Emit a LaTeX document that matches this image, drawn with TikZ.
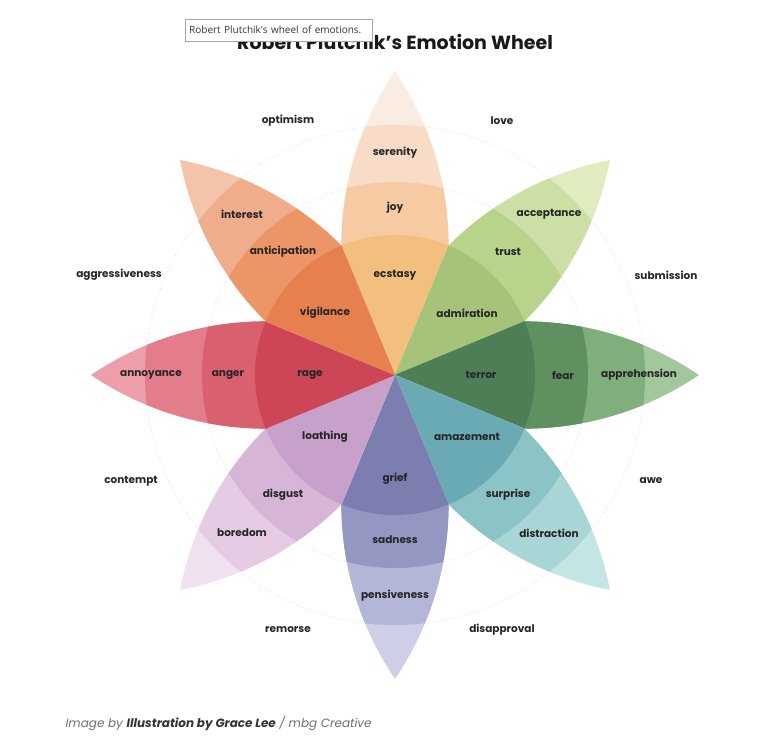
\documentclass[tikz,border=0pt]{standalone}
\usepackage{fontspec}
\setmainfont{Poppins}
\newfontfamily\tipfont{Open Sans}
\usetikzlibrary{positioning}

% petal colours, inner (A) to tip (D)
\definecolor{joyA}{HTML}{F3BF7E}
\definecolor{joyB}{HTML}{F6CBA3}
\definecolor{joyC}{HTML}{F9DCC7}
\definecolor{joyD}{HTML}{FBECE2}
\definecolor{trustA}{HTML}{A5C47A}
\definecolor{trustB}{HTML}{B8D48C}
\definecolor{trustC}{HTML}{CCE0A5}
\definecolor{trustD}{HTML}{E0EBC0}
\definecolor{fearA}{HTML}{4E7E55}
\definecolor{fearB}{HTML}{5F9160}
\definecolor{fearC}{HTML}{80AE7D}
\definecolor{fearD}{HTML}{A3C79D}
\definecolor{surpA}{HTML}{6AAAB4}
\definecolor{surpB}{HTML}{8CC3C7}
\definecolor{surpC}{HTML}{A8D6D6}
\definecolor{surpD}{HTML}{C3E6E4}
\definecolor{sadA}{HTML}{7B7EAE}
\definecolor{sadB}{HTML}{9497C2}
\definecolor{sadC}{HTML}{B3B6D7}
\definecolor{sadD}{HTML}{CDCFE6}
\definecolor{disgA}{HTML}{C8A1CB}
\definecolor{disgB}{HTML}{D7B5D7}
\definecolor{disgC}{HTML}{E5CBE4}
\definecolor{disgD}{HTML}{F1E0EF}
\definecolor{angA}{HTML}{CD4658}
\definecolor{angB}{HTML}{D9606F}
\definecolor{angC}{HTML}{E47D8B}
\definecolor{angD}{HTML}{EE9EA8}
\definecolor{antiA}{HTML}{E7804F}
\definecolor{antiB}{HTML}{EC9667}
\definecolor{antiC}{HTML}{F0AD8B}
\definecolor{antiD}{HTML}{F4C4AA}
\definecolor{capgray}{HTML}{707070}

% one petal, pointing along +x
\newcommand{\petalpath}{(0,0) -- (-22.5:140)
  arc[start angle=-90,end angle=-55.9,radius=311.5]
  arc[start angle=55.9,end angle=90,radius=311.5] -- cycle}

\begin{document}
\begin{tikzpicture}[
      x=1pt,y=1pt,
      every node/.style={font=\bfseries\fontsize{10.5}{12}\selectfont,text=black!85},
      dyad/.style={},
      ring/.style={draw=gray!35,dotted,line width=0.6pt}
    ]
      \useasboundingbox[fill=white] (-395,-378) rectangle (385,375);

      \draw[ring] (0,0) circle[radius=193];
      \draw[ring] (0,0) circle[radius=250];

      \foreach \ang/\pc in {90/joy,45/trust,0/fear,-45/surp,-90/sad,-135/disg,180/ang,135/anti}{
        \begin{scope}[rotate=\ang]
          \clip \petalpath;
          \fill[color=\pc D] (0,0) circle[radius=310];
          \fill[color=\pc C] (0,0) circle[radius=250];
          \fill[color=\pc B] (0,0) circle[radius=193];
          \fill[color=\pc A] (0,0) circle[radius=140];
        \end{scope}
      }

      % primary emotions
      \node (serenity) at (0,222) {serenity};
      \node (joy) at (0,167) {joy};
      \node (ecstasy) at (0,100) {ecstasy};
      \node (acceptance) at (154,161) {acceptance};
      \node (trust) at (113,123) {trust};
      \node (admiration) at (72,62) {admiration};
      \node (apprehension) at (244,0) {apprehension};
      \node (fear) at (168,0) {fear};
      \node (terror) at (86,0) {terror};
      \node (distraction) at (154,-158) {distraction};
      \node (surprise) at (113,-120) {surprise};
      \node (amazement) at (72,-62) {amazement};
      \node (pensiveness) at (0,-221) {pensiveness};
      \node (sadness) at (0,-165) {sadness};
      \node (grief) at (0,-104) {grief};
      \node (boredom) at (-153,-158) {boredom};
      \node (disgust) at (-112,-120) {disgust};
      \node (loathing) at (-70,-62) {loathing};
      \node (annoyance) at (-244,0) {annoyance};
      \node (anger) at (-167,0) {anger};
      \node (rage) at (-85,0) {rage};
      \node (interest) at (-153,161) {interest};
      \node (anticipation) at (-112,123) {anticipation};
      \node (vigilance) at (-70,62) {vigilance};

      % dyads
      \node[dyad] (optimism) at (-107,254) {optimism};
      \node[dyad] (love) at (107,254) {love};
      \node[dyad] (aggressiveness) at (-276,100) {aggressiveness};
      \node[dyad] (submission) at (271,100) {submission};
      \node[dyad] (contempt) at (-264,-106) {contempt};
      \node[dyad] (awe) at (256,-106) {awe};
      \node[dyad] (remorse) at (-107,-255) {remorse};
      \node[dyad] (disapproval) at (107,-255) {disapproval};

      \node[font=\bfseries\fontsize{19}{22}\selectfont,text=black!90] (title) at (0,333) {Robert Plutchik's Emotion Wheel};
      \node[draw=gray!70,fill=white,anchor=north west,minimum width=187,minimum height=22,
            inner sep=4pt,align=left,text width=179,
            font=\tipfont\fontsize{10}{11}\selectfont,text=black!80] (tip) at (-210,356) {Robert Plutchik's wheel of emotions.};

      \node[anchor=west,font=\itshape\fontsize{12}{14}\selectfont,text=capgray] (credit) at (-333,-348)
        {Image by \textbf{\color{black!80}Illustration by Grace Lee} / mbg Creative};
    \end{tikzpicture}
\end{document}
